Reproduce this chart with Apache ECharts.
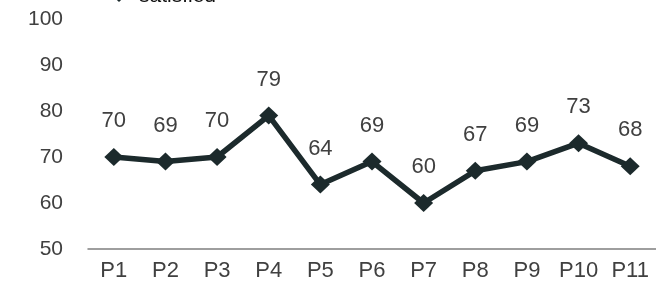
<!DOCTYPE html>
<html><head><meta charset="utf-8">
<script src="https://cdn.jsdelivr.net/npm/echarts@6/dist/echarts.min.js"></script>
<style>html,body{margin:0;padding:0;background:#fff}#c{width:656px;height:293px}</style>
</head><body><div id="c"></div>
<script>
const categories = ['P1','P2','P3','P4','P5','P6','P7','P8','P9','P10','P11'];
const satisfied = [70,69,70,79,64,69,60,67,69,73,68];
const yTicks = [50,60,70,80,90,100];

const chart = echarts.init(document.getElementById('c'), null, {renderer:'canvas'});
const font = 'Liberation Sans, Arial, sans-serif';
chart.setOption({
  animation:false,
  backgroundColor:'#ffffff',
  legend:{
    top:-19, left:98, itemWidth:30, itemHeight:14, itemGap:60,
    textStyle:{fontFamily:font, fontSize:21, color:'#111'},
    data:[{name:'satisfied'}]
  },
  grid:{left:88, right:-3, top:19, bottom:44},
  xAxis:{
    type:'category', data:categories, boundaryGap:true,
    axisLine:{lineStyle:{color:'#7f7f7f', width:1.5}},
    axisTick:{show:false},
    axisLabel:{fontFamily:font, fontSize:22, color:'#404040', margin:11}
  },
  yAxis:{
    type:'value', min:yTicks[0], max:yTicks[yTicks.length-1], interval:10,
    axisLine:{show:false}, axisTick:{show:false},
    splitLine:{show:false},
    axisLabel:{fontFamily:font, fontSize:21, color:'#404040', margin:25}
  },
  series:[{
    name:'satisfied', type:'line', data:satisfied,
    symbol:'diamond', symbolSize:[19,18],
    lineStyle:{color:'#1c2a2c', width:5.5},
    itemStyle:{color:'#1c2a2c'},
    label:{show:true, position:'top', distance:16, fontFamily:font, fontSize:22, color:'#404040'}
  }]
});
</script></body></html>
